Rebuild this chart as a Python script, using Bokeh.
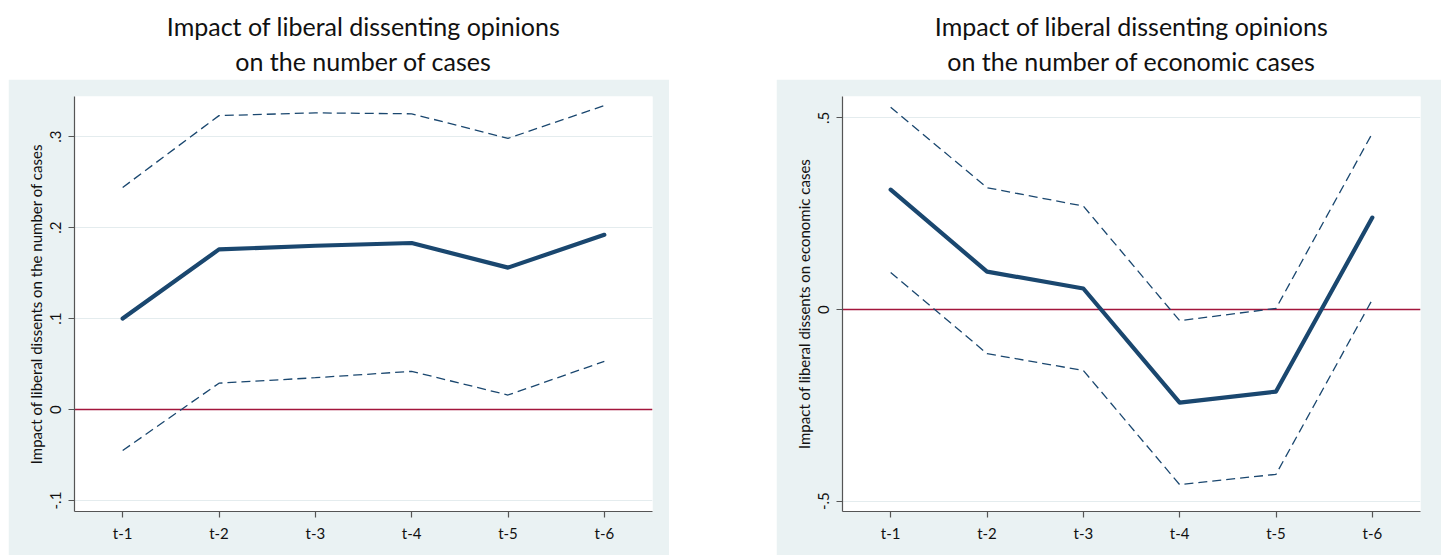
from bokeh.plotting import figure
from bokeh.models import Range1d, FactorRange, FixedTicker, Span, Label, Spacer
from bokeh.layouts import row, column
from bokeh.embed import file_html
from bokeh.resources import INLINE

# ---- data ----
lags = ["t-1", "t-2", "t-3", "t-4", "t-5", "t-6"]

all_est = [0.100, 0.176, 0.180, 0.183, 0.156, 0.192]
all_hi = [0.244, 0.323, 0.326, 0.325, 0.298, 0.334]
all_lo = [-0.045, 0.029, 0.035, 0.042, 0.016, 0.053]

eco_est = [0.313, 0.099, 0.055, -0.243, -0.214, 0.240]
eco_hi = [0.528, 0.318, 0.270, -0.029, 0.003, 0.460]
eco_lo = [0.097, -0.115, -0.159, -0.457, -0.430, 0.026]

left_ticks = [-0.1, 0.0, 0.1, 0.2, 0.3]
left_tick_labels = ["-.1", "0", ".1", ".2", ".3"]
right_ticks = [-0.5, 0.0, 0.5]
right_tick_labels = ["-.5", "0", ".5"]

titles = [
    ["Impact of liberal dissenting opinions", "on the number of cases"],
    ["Impact of liberal dissenting opinions", "on the number of economic cases"],
]
ylabels = [
    "Impact of liberal dissents on the number of cases",
    "Impact of liberal dissents on economic cases",
]

# ---- style ----
PANEL_BG = "#eaf2f3"
NAVY = "#1a476f"
RED = "#a3163c"
GRID = "#e4ecee"
AXIS = "#555555"
FONT = "Lato"


def title_fig(lines, width):
    t = figure(width=width, height=71, x_range=Range1d(0, width), y_range=Range1d(0, 71),
               output_backend="svg", toolbar_location=None,
               min_border=0, outline_line_color=None)
    t.axis.visible = False
    t.grid.visible = False
    t.background_fill_color = "white"
    t.border_fill_color = "white"
    for y, txt in zip([54, 19], lines):
        t.add_layout(Label(x=width / 2, y=y, text=txt, text_align="center",
                           text_baseline="middle", text_font=FONT,
                           text_font_size="25px", text_color="#111111"))
    return t


def panel(est, hi, lo, yr, ticks, tick_labels, ylabel, width, right_border):
    p = figure(width=width, height=476, x_range=FactorRange(*lags, range_padding=0),
               y_range=Range1d(*yr), output_backend="svg", toolbar_location=None,
               min_border_left=66, min_border_right=right_border,
               min_border_top=17, min_border_bottom=44,
               outline_line_color=None)
    p.background_fill_color = "white"
    p.border_fill_color = PANEL_BG
    p.xgrid.visible = False
    p.ygrid.grid_line_color = GRID
    p.ygrid.grid_line_width = 1.2

    p.add_layout(Span(location=0, dimension="width", line_color=RED,
                      line_width=1.6, level="underlay"))

    p.line(lags, hi, line_color=NAVY, line_width=1.3, line_dash="9 5")
    p.line(lags, lo, line_color=NAVY, line_width=1.3, line_dash="9 5")
    p.line(lags, est, line_color=NAVY, line_width=4.2, line_cap="round",
           line_join="round")

    p.yaxis.ticker = FixedTicker(ticks=ticks)
    p.yaxis.major_label_overrides = {t: l for t, l in zip(ticks, tick_labels)}
    p.yaxis.major_label_orientation = "vertical"
    p.yaxis.axis_label = ylabel
    p.yaxis.axis_label_text_font = FONT
    p.yaxis.axis_label_text_font_size = "15px"
    p.yaxis.axis_label_text_font_style = "normal"
    p.yaxis.axis_label_text_color = "#111111"
    p.yaxis.axis_label_standoff = 3
    p.yaxis.major_label_standoff = 7

    p.xaxis.major_label_standoff = 6

    for ax in (p.xaxis, p.yaxis):
        ax.axis_line_color = AXIS
        ax.axis_line_width = 1.2
        ax.major_tick_line_color = AXIS
        ax.major_tick_line_width = 1.2
        ax.major_tick_out = 6
        ax.major_tick_in = 0
        ax.minor_tick_line_color = None
        ax.major_label_text_font = FONT
        ax.major_label_text_font_size = "15px"
        ax.major_label_text_color = "#111111"
    return p


p1 = panel(all_est, all_hi, all_lo, (-0.112, 0.344), left_ticks, left_tick_labels,
           ylabels[0], 661, 17)
p2 = panel(eco_est, eco_hi, eco_lo, (-0.527, 0.556), right_ticks, right_tick_labels,
           ylabels[1], 665, 21)

layout = column(
    Spacer(height=8),
    row(Spacer(width=8),
        column(title_fig(titles[0], 661), p1),
        Spacer(width=107),
        column(title_fig(titles[1], 665), p2)),
)

open("out.html", "w").write(file_html(layout, INLINE))
